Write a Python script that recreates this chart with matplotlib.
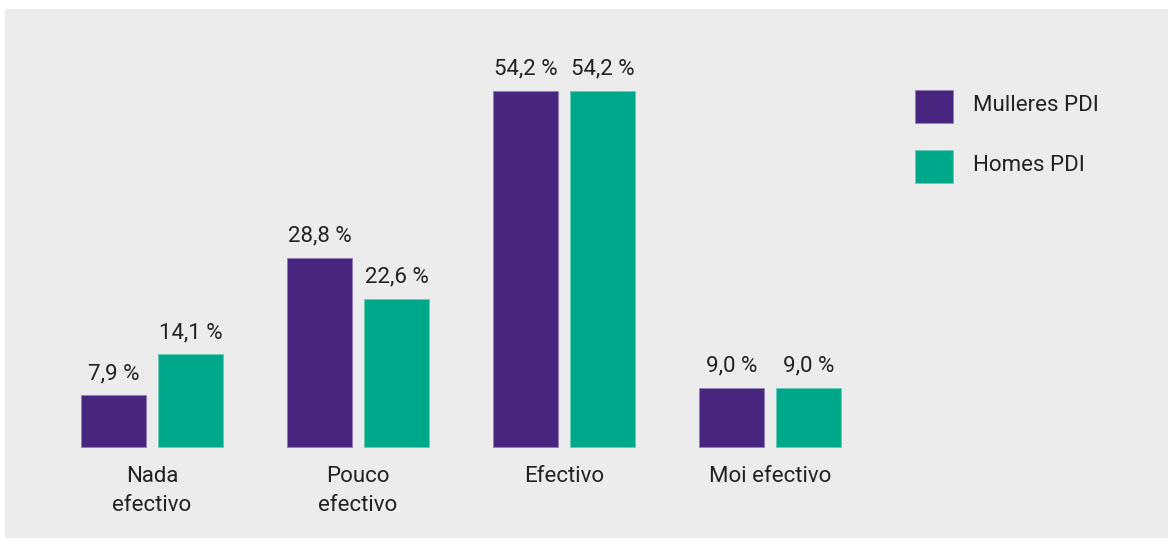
import matplotlib
matplotlib.use("Agg")
import matplotlib.pyplot as plt
from matplotlib.patches import Rectangle
import matplotlib.colors as mcolors
import numpy as np

categories = ["Nada\nefectivo", "Pouco\nefectivo", "Efectivo", "Moi efectivo"]
mulleres = [7.9, 28.8, 54.2, 9.0]
homes = [14.1, 22.6, 54.2, 9.0]
series_names = ["Mulleres PDI", "Homes PDI"]
colors = ["#482680", "#00a88a"]

plt.rcParams['font.family'] = ['Roboto', 'DejaVu Sans']
W, H = 1169, 539
fig = plt.figure(figsize=(W / 100, H / 100), dpi=100)
fig.patch.set_facecolor("white")
fig.patches.append(Rectangle((5 / W, 1 / H), 1163 / W, 529 / H,
                             transform=fig.transFigure, facecolor="#ececec",
                             edgecolor="none", zorder=-5))


def light(c):
    return mcolors.to_hex(np.array(mcolors.to_rgb(c)) * 0.6 + 0.4)


ax = fig.add_axes([0, 0, 1, 1])
ax.set_zorder(2)
ax.set_facecolor("none")
gs = 206.0
c0 = 152.0
ax.set_xlim(-c0 / gs, (W - c0) / gs)
pxu = 356 / 54.2
base = 447
ax.set_ylim(-(H - base) / pxu, base / pxu)
ax.axis("off")

x = np.arange(len(categories))
bw = 65 / gs
off = 77 / 2 / gs
textc = "#222222"
fs = 16
for vals, col, dx in [(mulleres, colors[0], -off), (homes, colors[1], off)]:
    bars = ax.bar(x + dx, vals, width=bw, color=col, edgecolor=light(col),
                  linewidth=0.6, zorder=2)
    for b, v in zip(bars, vals):
        ax.annotate(f"{v:.1f} %".replace(".", ","),
                    (b.get_x() + b.get_width() / 2, v),
                    xytext=(0, 8), textcoords="offset points",
                    ha="center", va="bottom", fontsize=fs, color=textc)

for xi, lab in zip(x, categories):
    ax.annotate(lab, (xi, 0), xytext=(0, -14), textcoords="offset points",
                ha="center", va="top", fontsize=fs, color=textc,
                linespacing=1.5)

# legend drawn as figure-level patches and texts
leg_top = [90, 150]
for name, col, top in zip(series_names, colors, leg_top):
    fig.patches.append(Rectangle((915 / W, (H - top - 33) / H), 38 / W, 33 / H,
                                 transform=fig.transFigure, facecolor=col,
                                 edgecolor=light(col), linewidth=0.6, zorder=3))
    fig.text(973 / W, (H - top - 13) / H, name, ha="left", va="center_baseline",
             fontsize=fs, color=textc, zorder=3)

fig.savefig("out.png", dpi=100)
